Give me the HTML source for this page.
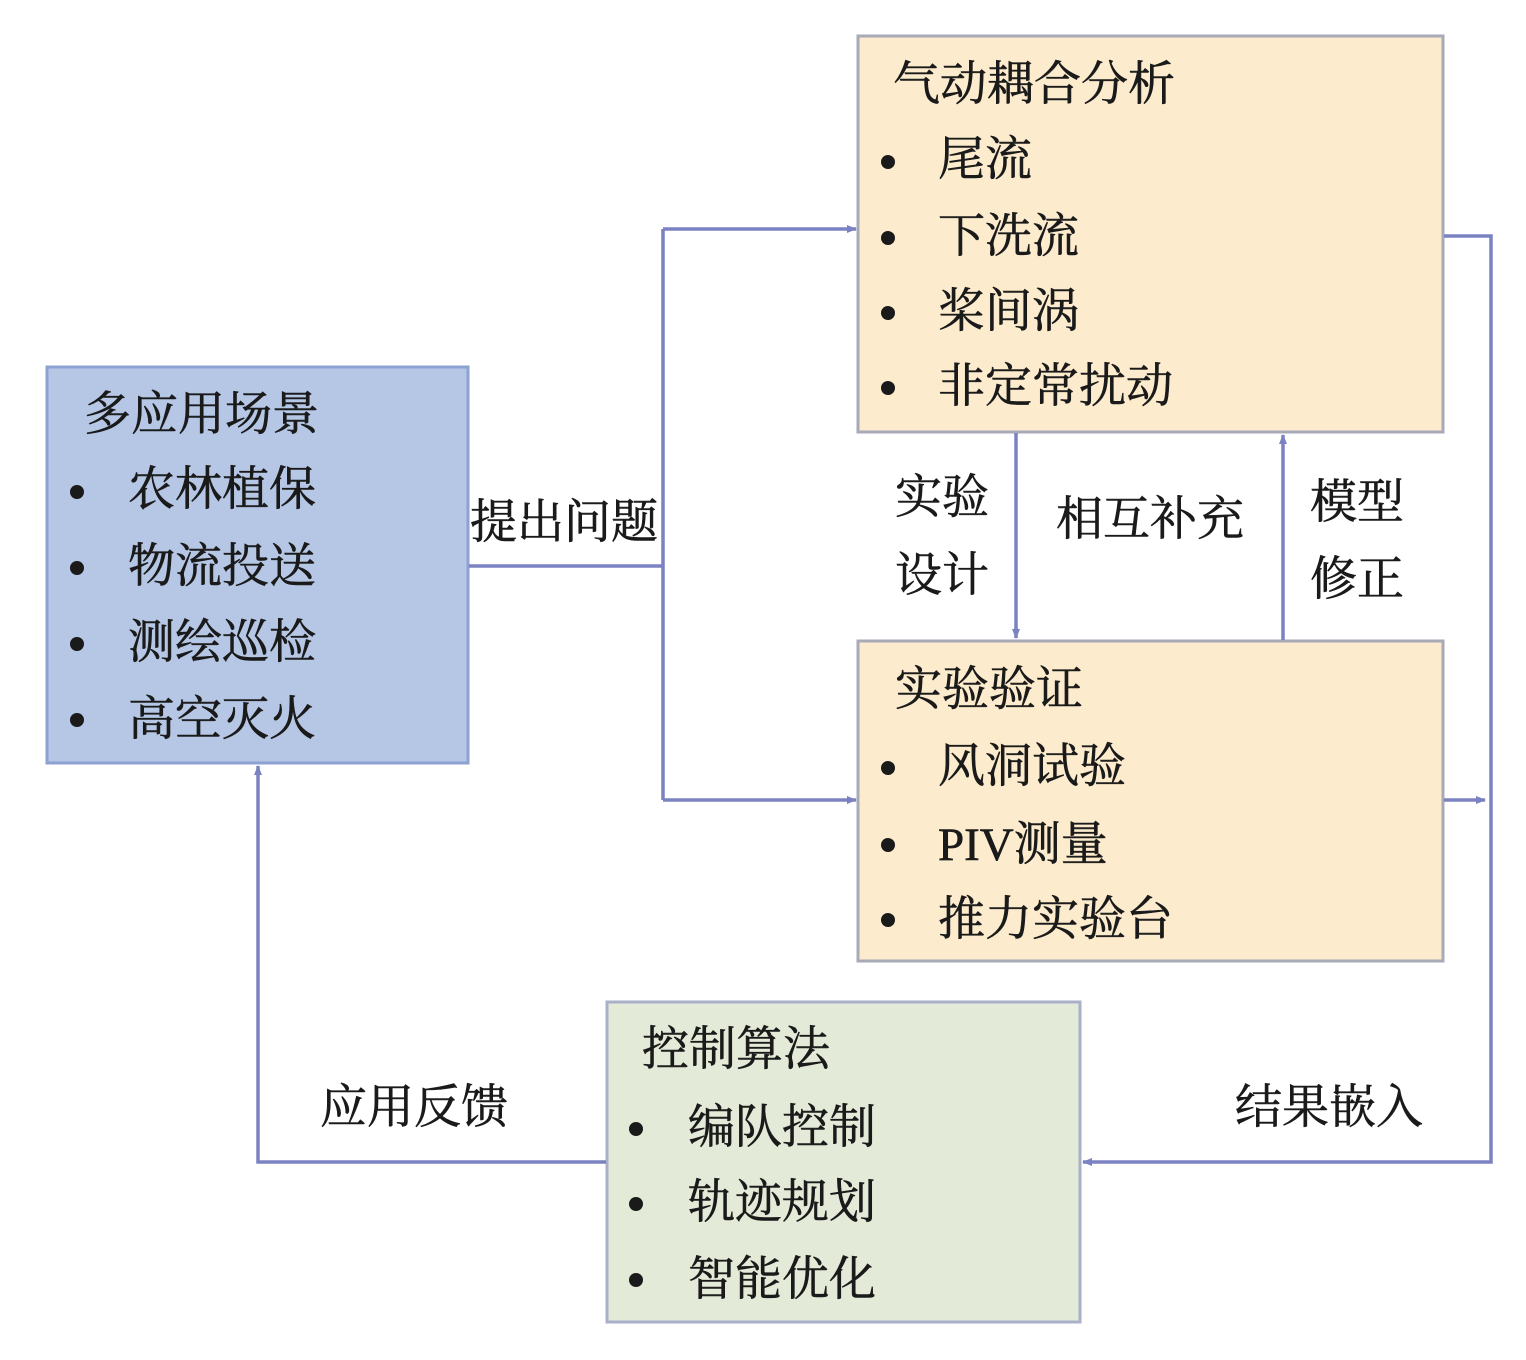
<!DOCTYPE html>
<html><head><meta charset="utf-8"><style>
html,body{margin:0;padding:0;background:#fff}
svg{display:block}
text{font-family:"Liberation Serif","Noto Serif CJK SC",serif;font-size:47px;fill:#1a1a1a;stroke:#1a1a1a;stroke-width:0.6;dominant-baseline:central}
</style></head><body>
<svg width="1526" height="1360" viewBox="0 0 1526 1360" xmlns="http://www.w3.org/2000/svg">
<defs>
<marker id="a" markerWidth="10" markerHeight="10" refX="9" refY="5" orient="auto" markerUnits="userSpaceOnUse">
<path d="M0,1 L10,5 L0,9 z" fill="#7b82c2"/></marker>
</defs>
<rect x="47" y="367" width="421" height="396" fill="#b5c7e5" stroke="#8ea2d2" stroke-width="3"/>
<rect x="858" y="36" width="585" height="396" fill="#fcebcd" stroke="#a9aab8" stroke-width="3"/>
<rect x="858" y="641" width="585" height="320" fill="#fcebcd" stroke="#a9aab8" stroke-width="3"/>
<rect x="607" y="1002" width="473" height="320" fill="#e3ead7" stroke="#a9b0c8" stroke-width="3"/>
<g stroke="#7b82c2" stroke-width="3.5" fill="none">
<path d="M469 566 H663"/>
<path d="M663 229 V800"/>
<path d="M663 229 H856" marker-end="url(#a)"/>
<path d="M663 800 H856" marker-end="url(#a)"/>
<path d="M1016 433 V638" marker-end="url(#a)"/>
<path d="M1283 640 V435" marker-end="url(#a)"/>
<path d="M1444 236 H1491 V1162 H1083" marker-end="url(#a)"/>
<path d="M1444 800 H1485" marker-end="url(#a)"/>
<path d="M606 1162 H258 V766" marker-end="url(#a)"/>
</g>
<g fill="#1a1a1a">
<circle cx="77" cy="492" r="7"/><circle cx="77" cy="568" r="7"/><circle cx="77" cy="644" r="7"/><circle cx="77" cy="720" r="7"/>
<circle cx="888" cy="162" r="7"/><circle cx="888" cy="238" r="7"/><circle cx="888" cy="313" r="7"/><circle cx="888" cy="388" r="7"/>
<circle cx="888" cy="768" r="7"/><circle cx="888" cy="845" r="7"/><circle cx="888" cy="920" r="7"/>
<circle cx="636" cy="1129" r="7"/><circle cx="636" cy="1204" r="7"/><circle cx="636" cy="1280" r="7"/>
</g>
<text x="84" y="415">多应用场景</text>
<text x="128" y="490">农林植保</text>
<text x="128" y="567">物流投送</text>
<text x="128" y="643">测绘巡检</text>
<text x="128" y="720">高空灭火</text>
<text x="893" y="85">气动耦合分析</text>
<text x="938" y="160">尾流</text>
<text x="938" y="237">下洗流</text>
<text x="938" y="312">桨间涡</text>
<text x="938" y="387">非定常扰动</text>
<text x="895" y="690">实验验证</text>
<text x="938" y="767">风洞试验</text>
<text x="938" y="845">PIV测量</text>
<text x="938" y="920">推力实验台</text>
<text x="642" y="1050">控制算法</text>
<text x="688" y="1128">编队控制</text>
<text x="688" y="1203">轨迹规划</text>
<text x="688" y="1280">智能优化</text>
<text x="470" y="523">提出问题</text>
<text x="895" y="498">实验</text>
<text x="895" y="576">设计</text>
<text x="1056" y="520">相互补充</text>
<text x="1310" y="503">模型</text>
<text x="1310" y="580">修正</text>
<text x="320" y="1108">应用反馈</text>
<text x="1235" y="1108">结果嵌入</text>
</svg>
</body></html>
